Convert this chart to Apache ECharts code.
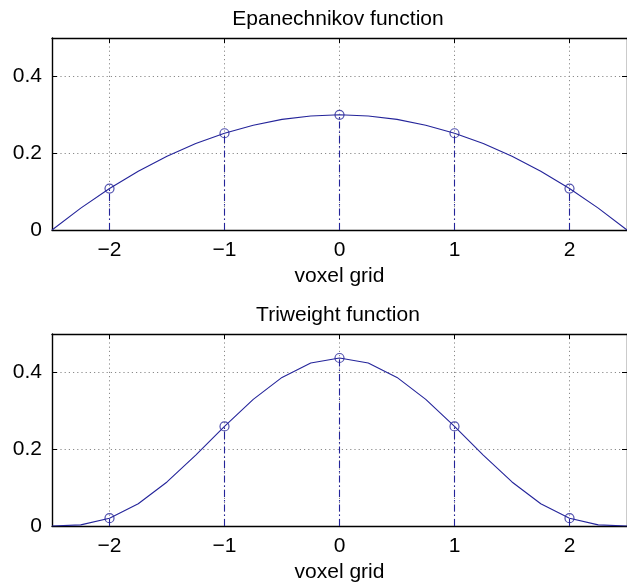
<!DOCTYPE html>
<html>
<head>
<meta charset="utf-8">
<script src="https://cdn.jsdelivr.net/npm/echarts@6/dist/echarts.min.js"></script>
<style>
html,body{margin:0;padding:0;background:#fff;}
#chart{width:627px;height:584px;}
</style>
</head>
<body>
<div id="chart"></div>
<script>
// sample grid of the curves (voxel grid coordinate)
var gridX = [-2.5,-2.25,-2,-1.75,-1.5,-1.25,-1,-0.75,-0.5,-0.25,0,0.25,0.5,0.75,1,1.25,1.5,1.75,2,2.25,2.5];
// Epanechnikov curve values
var epaY = [0,0.057,0.108,0.153,0.192,0.225,0.252,0.273,0.288,0.297,0.3,0.297,0.288,0.273,0.252,0.225,0.192,0.153,0.108,0.057,0];
// Triweight curve values
var triY = [0,0.003,0.0204,0.058,0.1147,0.1846,0.2593,0.3297,0.387,0.4245,0.4375,0.4245,0.387,0.3297,0.2593,0.1846,0.1147,0.058,0.0204,0.003,0];
// stem positions (voxel grid points) and values
var stemX = [-2,-1,0,1,2];
var epaStem = [0.108,0.252,0.3,0.252,0.108];
var triStem = [0.0204,0.2593,0.4375,0.2593,0.0204];
var titles = ['Epanechnikov function','Triweight function'];
var xLabel = 'voxel grid';

var NAVY = '#24249a';
var FONT = "'Liberation Sans', Arial, Helvetica, sans-serif";
var FS = 21;

var chart = echarts.init(document.getElementById('chart'), null, {renderer:'canvas'});

var gridTops = [38, 334];
var grids = [], xAxes = [], yAxes = [], series = [], titleOpts = [];

function fmtNum(v){
  if (Math.abs(v - Math.round(v)) > 1e-9) return '';
  var s = String(Math.round(v));
  return s.replace('-', '\u2212');
}

[ [epaY, epaStem], [triY, triStem] ].forEach(function(pair, i){
  var curve = pair[0], stem = pair[1];
  grids.push({left:52, top:gridTops[i], width:576, height:192, containLabel:false});
  titleOpts.push({
    text: titles[i], left: 338, textAlign: 'center', top: gridTops[i] - 29, padding: 0,
    textStyle: {fontFamily: FONT, fontSize: FS, fontWeight: 'normal', color: '#000'}
  });
  var axLine = {show:true, onZero:false, lineStyle:{color:'#000', width:1.4}};
  var tick = {show:true, inside:true, length:5, lineStyle:{color:'#000', width:1}};
  // bottom x axis
  xAxes.push({
    type:'value', gridIndex:i, position:'bottom', min:-2.5, max:2.5, splitNumber:5,
    axisLine:axLine, axisTick:tick,
    axisLabel:{show:true, showMinLabel:false, showMaxLabel:false, margin:10, color:'#000',
      fontFamily:FONT, fontSize:FS, formatter:fmtNum},
    splitLine:{show:true, lineStyle:{color:'#8a8a8a', type:[1.2,3], width:1}},
    name:xLabel, nameLocation:'middle', nameGap:36,
    nameTextStyle:{fontFamily:FONT, fontSize:FS, color:'#000'}
  });
  // top x axis (box + ticks)
  xAxes.push({
    type:'value', gridIndex:i, position:'top', min:-2.5, max:2.5, splitNumber:5,
    axisLine:axLine, axisTick:tick, axisLabel:{show:false}, splitLine:{show:false}
  });
  // left y axis
  yAxes.push({
    type:'value', gridIndex:i, position:'left', min:0, max:0.5, interval:0.2,
    axisLine:axLine, axisTick:tick,
    axisLabel:{show:true, showMaxLabel:false, margin:10, color:'#000', fontFamily:FONT, fontSize:FS},
    splitLine:{show:true, lineStyle:{color:'#8a8a8a', type:[1.2,3], width:1}}
  });
  // right y axis
  yAxes.push({
    type:'value', gridIndex:i, position:'right', min:0, max:0.5, interval:0.2,
    axisLine:axLine, axisTick:tick, axisLabel:{show:false}, splitLine:{show:false}
  });

  var xi = i*2, yi = i*2;
  series.push({
    type:'line', xAxisIndex:xi, yAxisIndex:yi, symbol:'none', smooth:false,
    lineStyle:{color:NAVY, width:1.1}, z:3,
    data: gridX.map(function(x,k){ return [x, curve[k]]; }),
    animation:false, silent:true
  });
  series.push({
    type:'scatter', xAxisIndex:xi, yAxisIndex:yi, symbol:'circle', symbolSize:9,
    itemStyle:{color:'rgba(0,0,0,0)', borderColor:NAVY, borderWidth:1.2}, z:4,
    data: stemX.map(function(x,k){ return [x, stem[k]]; }),
    markLine:{
      silent:true, symbol:['none','none'], label:{show:false},
      lineStyle:{color:NAVY, type:[7,3,1.5,3], width:1.1},
      data: stemX.map(function(x,k){ return [{coord:[x,0]},{coord:[x,stem[k]]}]; }),
      animation:false
    },
    animation:false, silent:true
  });
});

chart.setOption({
  animation:false,
  backgroundColor:'#fff',
  title:titleOpts,
  grid:grids,
  xAxis:xAxes,
  yAxis:yAxes,
  series:series
});
</script>
</body>
</html>
